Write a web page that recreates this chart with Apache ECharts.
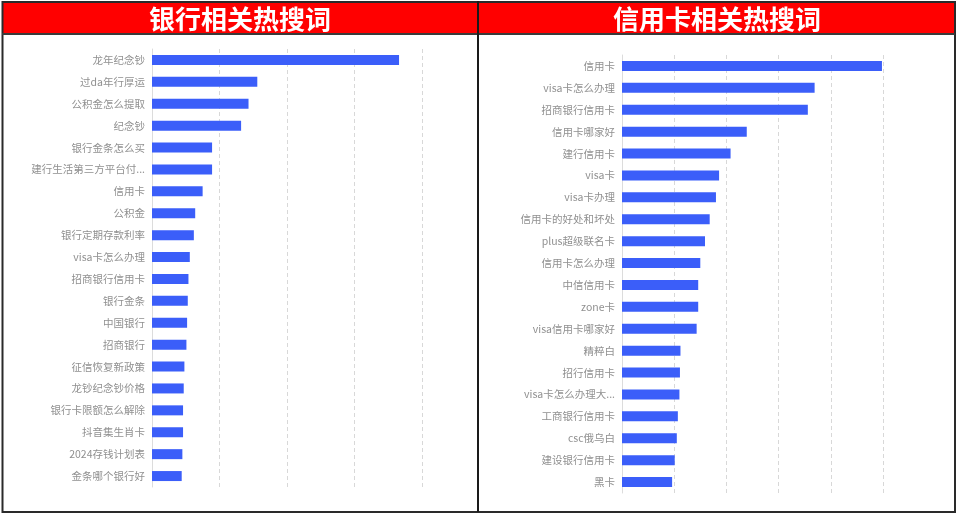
<!DOCTYPE html>
<html>
<head>
<meta charset="utf-8">
<script src="https://cdn.jsdelivr.net/npm/echarts@6/dist/echarts.min.js"></script>
<style>
html,body{margin:0;padding:0;background:#fff;}
#c{width:958px;height:514px;}
</style>
</head>
<body>
<div id="c"></div>
<script>
var leftTitle = '银行相关热搜词';
var rightTitle = '信用卡相关热搜词';

var leftCategories = ['龙年纪念钞','过da年行厚运','公积金怎么提取','纪念钞','银行金条怎么买','建行生活第三方平台付...','信用卡','公积金','银行定期存款利率','visa卡怎么办理','招商银行信用卡','银行金条','中国银行','招商银行','征信恢复新政策','龙钞纪念钞价格','银行卡限额怎么解除','抖音集生肖卡','2024存钱计划表','金条哪个银行好'];
var leftValues = [366,156,143,132,89,89,75,64,62,56,54,53,52,51,48,47,46,46,45,44];

var rightCategories = ['信用卡','visa卡怎么办理','招商银行信用卡','信用卡哪家好','建行信用卡','visa卡','visa卡办理','信用卡的好处和坏处','plus超级联名卡','信用卡怎么办理','中信信用卡','zone卡','visa信用卡哪家好','精粹白','招行信用卡','visa卡怎么办理大...','工商银行信用卡','csc俄乌白','建设银行信用卡','黑卡'];
var rightValues = [498,369,356,239,208,186,180,168,159,150,146,146,143,112,111,110,107,105,101,96];

var leftMax = 400, rightMax = 500, tickStep = 100;

var chart = echarts.init(document.getElementById('c'), null, {renderer:'canvas'});
var barColor = '#3b5ef9';
var labelStyle = {color:'#909090', fontSize:10.5, fontFamily:'"Noto Sans CJK SC", sans-serif', margin:7};

function xAxis(idx, max){
  return {gridIndex:idx, type:'value', min:0, max:max, interval:tickStep,
    axisLabel:{show:false}, axisLine:{show:false}, axisTick:{show:false},
    splitLine:{show:true, lineStyle:{color:'#d8d8d8', type:[4,3], width:1}}};
}
function yAxis(idx, cats){
  return {gridIndex:idx, type:'category', data:cats, inverse:true,
    axisLine:{show:true, lineStyle:{color:'#dcdcdc'}}, axisTick:{show:false},
    axisLabel:labelStyle};
}

chart.setOption({
  animation:false,
  grid:[
    {left:152, top:49, width:270, height:438},
    {left:622, top:55, width:261, height:438}
  ],
  xAxis:[xAxis(0,leftMax), xAxis(1,rightMax)],
  yAxis:[yAxis(0,leftCategories), yAxis(1,rightCategories)],
  series:[
    {type:'bar', xAxisIndex:0, yAxisIndex:0, data:leftValues, barWidth:10, itemStyle:{color:barColor}},
    {type:'bar', xAxisIndex:1, yAxisIndex:1, data:rightValues, barWidth:10, itemStyle:{color:barColor}}
  ],
  graphic:[
    {type:'rect', shape:{x:3, y:2, width:475, height:32}, style:{fill:'#ff0000'}, z:1},
    {type:'rect', shape:{x:478, y:2, width:477, height:32}, style:{fill:'#ff0000'}, z:1},
    {type:'rect', shape:{x:2.5, y:2, width:952.5, height:510}, style:{fill:'none', stroke:'#2a2a2a', lineWidth:2}, z:5},
    {type:'line', shape:{x1:2, y1:34, x2:955, y2:34}, style:{stroke:'#3a3a3a', lineWidth:2}, z:5},
    {type:'line', shape:{x1:478, y1:1, x2:478, y2:512}, style:{stroke:'#1a1a1a', lineWidth:2}, z:5},
    {type:'text', x:240, y:19, style:{text:leftTitle, fill:'#fff', font:'bold 26px "Noto Sans CJK SC"', textAlign:'center', textVerticalAlign:'middle'}, z:6},
    {type:'text', x:717, y:19, style:{text:rightTitle, fill:'#fff', font:'bold 26px "Noto Sans CJK SC"', textAlign:'center', textVerticalAlign:'middle'}, z:6}
  ]
});
</script>
</body>
</html>
